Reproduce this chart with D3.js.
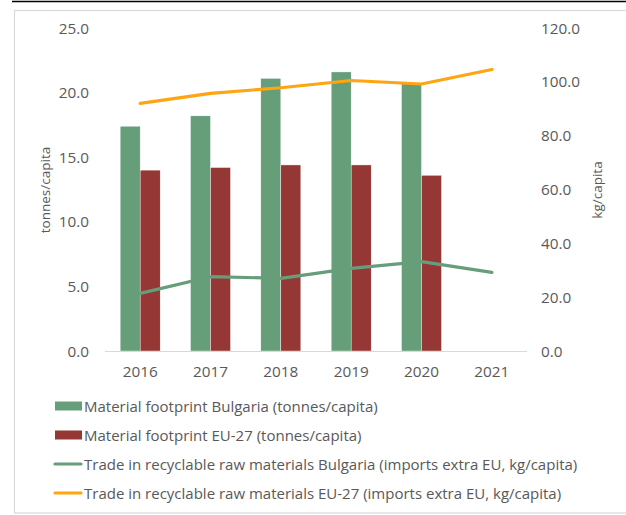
<!DOCTYPE html>
<html>
<head>
<meta charset="utf-8">
<script src="https://cdn.jsdelivr.net/npm/d3@7"></script>
<style>
  body { margin: 0; background: #fff; }
  text { font-family: "Open Sans", "Noto Sans", sans-serif; fill: #595959; }
</style>
</head>
<body>
<div id="chart"></div>
<script>
// chart data
var years = ["2016", "2017", "2018", "2019", "2020", "2021"];
var footprintBG = [17.4, 18.2, 21.1, 21.6, 20.7, null];
var footprintEU = [14.0, 14.2, 14.4, 14.4, 13.6, null];
var tradeBG = [21.4, 27.6, 27.0, 30.7, 33.2, 29.2];
var tradeEU = [92.0, 95.7, 97.8, 100.5, 99.2, 104.6];
var leftTicks = [0, 5, 10, 15, 20, 25];
var rightTicks = [0, 20, 40, 60, 80, 100, 120];
var legendLabels = [
  "Material footprint Bulgaria (tonnes/capita)",
  "Material footprint EU-27 (tonnes/capita)",
  "Trade in recyclable raw materials Bulgaria (imports extra EU, kg/capita)",
  "Trade in recyclable raw materials EU-27 (imports extra EU, kg/capita)"
];

var green = "#669e7a", red = "#953735", orange = "#ffa512";

var W = 626, H = 515;
var svg = d3.select("#chart").append("svg")
  .attr("width", W).attr("height", H);

// top rule and frame
svg.append("line").attr("x1", 12).attr("x2", W).attr("y1", 1.5).attr("y2", 1.5)
  .attr("stroke", "#000").attr("stroke-width", 1.5);
svg.append("rect").attr("x", 14.5).attr("y", 10.5).attr("width", W).attr("height", 502.5)
  .attr("fill", "none").attr("stroke", "#d9d9d9").attr("stroke-width", 1.2);

var plot = {left: 105, right: 527, top: 28, bottom: 351};

var x = d3.scaleBand().domain(years).range([plot.left, plot.right]);
var xSub = d3.scaleBand().domain([0, 1]).range([0, 40]);
var yL = d3.scaleLinear().domain([0, 25]).range([plot.bottom, plot.top]);
var yR = d3.scaleLinear().domain([0, 120]).range([plot.bottom, plot.top]);

// bars
[footprintBG, footprintEU].forEach(function(series, s) {
  svg.append("g").selectAll("rect")
    .data(years.map(function(y, i) { return {year: y, v: series[i]}; })
      .filter(function(d) { return d.v != null; }))
    .enter().append("rect")
    .attr("x", function(d) { return x(d.year) + (x.bandwidth() - 40) / 2 + xSub(s); })
    .attr("y", function(d) { return yL(d.v); })
    .attr("width", xSub.bandwidth())
    .attr("height", function(d) { return yL(0) - yL(d.v); })
    .attr("fill", s === 0 ? green : red)
    .attr("stroke", "#fff").attr("stroke-width", 0.4);
});

// x axis baseline
svg.append("line").attr("x1", plot.left).attr("x2", plot.right)
  .attr("y1", plot.bottom + 0.5).attr("y2", plot.bottom + 0.5)
  .attr("stroke", "#d9d9d9").attr("stroke-width", 1);

// lines
var line = d3.line()
  .x(function(d, i) { return x(years[i]) + x.bandwidth() / 2; })
  .y(function(d) { return yR(d); });

[[tradeBG, green], [tradeEU, orange]].forEach(function(p) {
  svg.append("path").datum(p[0])
    .attr("d", line)
    .attr("fill", "none")
    .attr("stroke", p[1])
    .attr("stroke-width", 3.2)
    .attr("stroke-linecap", "round")
    .attr("stroke-linejoin", "round");
});

// x labels
svg.append("g").selectAll("text").data(years).enter().append("text")
  .attr("x", function(d) { return x(d) + x.bandwidth() / 2; })
  .attr("y", 377)
  .attr("text-anchor", "middle")
  .attr("font-size", "15.3px")
  .text(function(d) { return d; });

// left ticks
svg.append("g").selectAll("text").data(leftTicks).enter().append("text")
  .attr("x", 89).attr("y", function(d) { return yL(d) + 5.5; })
  .attr("text-anchor", "end").attr("font-size", "15.3px")
  .text(function(d) { return d3.format(".1f")(d); });

// right ticks
svg.append("g").selectAll("text").data(rightTicks).enter().append("text")
  .attr("x", 541).attr("y", function(d) { return yR(d) + 5.5; })
  .attr("text-anchor", "start").attr("font-size", "15.3px")
  .text(function(d) { return d3.format(".1f")(d); });

// axis titles
svg.append("text")
  .attr("transform", "translate(50,190) rotate(-90)")
  .attr("text-anchor", "middle").attr("font-size", "13.5px")
  .text("tonnes/capita");
svg.append("text")
  .attr("transform", "translate(602,190) rotate(-90)")
  .attr("text-anchor", "middle").attr("font-size", "13.5px")
  .text("kg/capita");

// legend
var legend = svg.append("g").selectAll("g").data(legendLabels).enter().append("g")
  .attr("transform", function(d, i) { return "translate(0," + (406 + i * 29) + ")"; });

legend.each(function(d, i) {
  var g = d3.select(this);
  if (i < 2) {
    g.append("rect").attr("x", 55).attr("y", -4.5).attr("width", 27).attr("height", 9)
      .attr("fill", i === 0 ? green : red);
  } else {
    g.append("line").attr("x1", 55).attr("x2", 81).attr("y1", 0).attr("y2", 0)
      .attr("stroke", i === 2 ? green : orange).attr("stroke-width", 3.2)
      .attr("stroke-linecap", "round");
  }
  g.append("text").attr("x", 84).attr("y", 5.5)
    .attr("font-size", "15px")
    .text(d);
});
</script>
</body>
</html>
